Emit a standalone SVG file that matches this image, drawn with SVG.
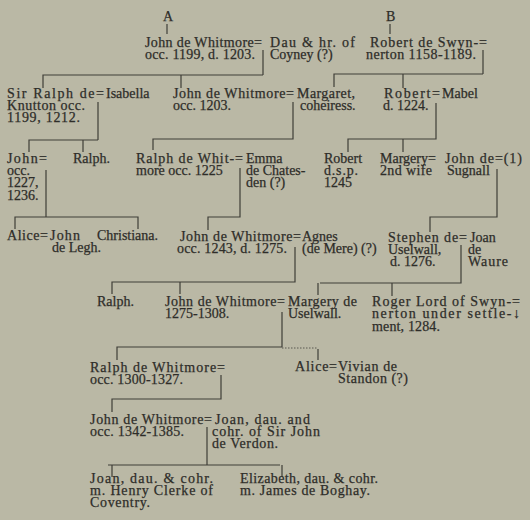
<svg xmlns="http://www.w3.org/2000/svg" width="530" height="520" viewBox="0 0 530 520">
<style>
.t{font-family:"Liberation Serif","DejaVu Serif",serif;font-size:14px;fill:#2e2d29;stroke:#2e2d29;stroke-width:0.25;}
.c{stroke:#3f3e38;stroke-width:1.2;fill:none;}
.d{stroke:#5a5950;stroke-width:1;fill:none;stroke-dasharray:1.5 1.5;}
</style>
<rect x="0" y="0" width="530" height="520" fill="#bab8a5"/>
<g id="connectors">
<path class="c" d="M167 24V34"/>
<path class="c" d="M390 24V34"/>
<path class="c" d="M263 50V75M43 88V75H263M181 75V88"/>
<path class="c" d="M483 50V74M334 87V74H483M403 74V88"/>
<path class="c" d="M98 102V140M29 152V140H98M83 140V152"/>
<path class="c" d="M293 102V139H153V150"/>
<path class="c" d="M436 103V139H348V152M403 139V152"/>
<path class="c" d="M46 170V217M15 229V217H138V229"/>
<path class="c" d="M240 168V217H208V230"/>
<path class="c" d="M497 169V217H430V232"/>
<path class="c" d="M295 247V282H112V294M180 282V294"/>
<path class="c" d="M461 245V283H320M318 283V295M392 283V296"/>
<path class="c" d="M282 312V347H117V360"/>
<path class="d" d="M282 348H318"/>
<path class="c" d="M318 349V360"/>
<path class="c" d="M221 375V399H112V412"/>
<path class="c" d="M207 427V465M108 465H280M112 465V477M282 465V477"/>
</g>
<g id="root-a"><text class="t" x="163" y="21">A</text></g>
<g id="root-b"><text class="t" x="386" y="21">B</text></g>
<g id="john-whitmore-1203">
<text class="t" x="145" y="47" textLength="117" lengthAdjust="spacing">John de Whitmore=</text>
<text class="t" x="145" y="59" textLength="110" lengthAdjust="spacing">occ. 1199, d. 1203.</text>
</g>
<g id="dau-coyney">
<text class="t" x="270" y="47" textLength="85" lengthAdjust="spacing">Dau &amp; hr. of</text>
<text class="t" x="270" y="59">Coyney (?)</text>
</g>
<g id="robert-swynnerton-1189">
<text class="t" x="370" y="47" textLength="117" lengthAdjust="spacing">Robert de Swyn-=</text>
<text class="t" x="366" y="59" textLength="110" lengthAdjust="spacing">nerton 1158-1189.</text>
</g>
<g id="ralph-knutton">
<text class="t" x="7" y="98" textLength="97" lengthAdjust="spacing">Sir Ralph de=</text>
<text class="t" x="7" y="110" textLength="78" lengthAdjust="spacing">Knutton occ.</text>
<text class="t" x="7" y="122" textLength="73" lengthAdjust="spacing">1199, 1212.</text>
</g>
<g id="isabella"><text class="t" x="106" y="98">Isabella</text></g>
<g id="john-whitmore-1203b">
<text class="t" x="173" y="98" textLength="121" lengthAdjust="spacing">John de Whitmore=</text>
<text class="t" x="173" y="110">occ. 1203.</text>
</g>
<g id="margaret">
<text class="t" x="297" y="98" textLength="58" lengthAdjust="spacing">Margaret,</text>
<text class="t" x="300" y="110">coheiress.</text>
</g>
<g id="robert-1224">
<text class="t" x="384" y="98" textLength="56" lengthAdjust="spacing">Robert=</text>
<text class="t" x="383" y="110">d. 1224.</text>
</g>
<g id="mabel"><text class="t" x="442" y="98">Mabel</text></g>
<g id="john-1236">
<text class="t" x="7" y="163" textLength="40" lengthAdjust="spacing">John=</text>
<text class="t" x="7" y="175">occ.</text>
<text class="t" x="7" y="187">1227,</text>
<text class="t" x="7" y="200">1236.</text>
</g>
<g id="ralph-a"><text class="t" x="73" y="163">Ralph.</text></g>
<g id="ralph-whitmore-1225">
<text class="t" x="136" y="163" textLength="107" lengthAdjust="spacing">Ralph de Whit-=</text>
<text class="t" x="136" y="175">more occ. 1225</text>
</g>
<g id="emma">
<text class="t" x="246" y="163">Emma</text>
<text class="t" x="246" y="175">de Chates-</text>
<text class="t" x="246" y="187">den (?)</text>
</g>
<g id="robert-dsp">
<text class="t" x="324" y="163">Robert</text>
<text class="t" x="324" y="175" textLength="34" lengthAdjust="spacing">d.s.p.</text>
<text class="t" x="324" y="187">1245</text>
</g>
<g id="margery-2nd">
<text class="t" x="380" y="163">Margery=</text>
<text class="t" x="380" y="175" textLength="52" lengthAdjust="spacing">2nd wife</text>
</g>
<g id="john-sugnall">
<text class="t" x="445" y="163" textLength="77" lengthAdjust="spacing">John de=(1)</text>
<text class="t" x="447" y="175">Sugnall</text>
</g>
<g id="alice-a"><text class="t" x="7" y="240" textLength="41" lengthAdjust="spacing">Alice=</text></g>
<g id="john-legh">
<text class="t" x="50" y="240" textLength="30" lengthAdjust="spacing">John</text>
<text class="t" x="52" y="252">de Legh.</text>
</g>
<g id="christiana"><text class="t" x="97" y="240">Christiana.</text></g>
<g id="john-whitmore-1275">
<text class="t" x="180" y="241" textLength="121" lengthAdjust="spacing">John de Whitmore=</text>
<text class="t" x="177" y="253" textLength="110" lengthAdjust="spacing">occ. 1243, d. 1275.</text>
</g>
<g id="agnes">
<text class="t" x="302" y="241">Agnes</text>
<text class="t" x="302" y="253">(de Mere) (?)</text>
</g>
<g id="stephen-uselwall">
<text class="t" x="388" y="242" textLength="79" lengthAdjust="spacing">Stephen de=</text>
<text class="t" x="388" y="254">Uselwall,</text>
<text class="t" x="390" y="266">d. 1276.</text>
</g>
<g id="joan-waure">
<text class="t" x="470" y="242">Joan</text>
<text class="t" x="468" y="254">de</text>
<text class="t" x="468" y="266" textLength="40" lengthAdjust="spacing">Waure</text>
</g>
<g id="ralph-b"><text class="t" x="97" y="306">Ralph.</text></g>
<g id="john-whitmore-1308">
<text class="t" x="165" y="306" textLength="120" lengthAdjust="spacing">John de Whitmore=</text>
<text class="t" x="165" y="318">1275-1308.</text>
</g>
<g id="margery-uselwall">
<text class="t" x="288" y="306" textLength="69" lengthAdjust="spacing">Margery de</text>
<text class="t" x="288" y="318">Uselwall.</text>
</g>
<g id="roger-swynnerton">
<text class="t" x="372" y="306" textLength="148" lengthAdjust="spacing">Roger Lord of Swyn-=</text>
<text class="t" x="372" y="318" textLength="148" lengthAdjust="spacing">nerton under settle-↓</text>
<text class="t" x="372" y="331" textLength="68" lengthAdjust="spacing">ment, 1284.</text>
</g>
<g id="ralph-whitmore-1327">
<text class="t" x="90" y="372" textLength="135" lengthAdjust="spacing">Ralph de Whitmore=</text>
<text class="t" x="90" y="384" textLength="93" lengthAdjust="spacing">occ. 1300-1327.</text>
</g>
<g id="alice-b"><text class="t" x="295" y="371" textLength="42" lengthAdjust="spacing">Alice=</text></g>
<g id="vivian-standon">
<text class="t" x="338" y="371" textLength="59" lengthAdjust="spacing">Vivian de</text>
<text class="t" x="338" y="383" textLength="70" lengthAdjust="spacing">Standon (?)</text>
</g>
<g id="john-whitmore-1385">
<text class="t" x="90" y="424" textLength="122" lengthAdjust="spacing">John de Whitmore=</text>
<text class="t" x="90" y="436" textLength="94" lengthAdjust="spacing">occ. 1342-1385.</text>
</g>
<g id="joan-verdon">
<text class="t" x="215" y="424" textLength="95" lengthAdjust="spacing">Joan, dau. and</text>
<text class="t" x="212" y="436" textLength="108" lengthAdjust="spacing">cohr. of Sir John</text>
<text class="t" x="212" y="448" textLength="66" lengthAdjust="spacing">de Verdon.</text>
</g>
<g id="joan-clerke">
<text class="t" x="90" y="483" textLength="123" lengthAdjust="spacing">Joan, dau. &amp; cohr.</text>
<text class="t" x="90" y="495" textLength="123" lengthAdjust="spacing">m. Henry Clerke of</text>
<text class="t" x="90" y="507" textLength="60" lengthAdjust="spacing">Coventry.</text>
</g>
<g id="elizabeth-boghay">
<text class="t" x="240" y="483" textLength="138" lengthAdjust="spacing">Elizabeth, dau. &amp; cohr.</text>
<text class="t" x="240" y="495" textLength="130" lengthAdjust="spacing">m. James de Boghay.</text>
</g>
</svg>
